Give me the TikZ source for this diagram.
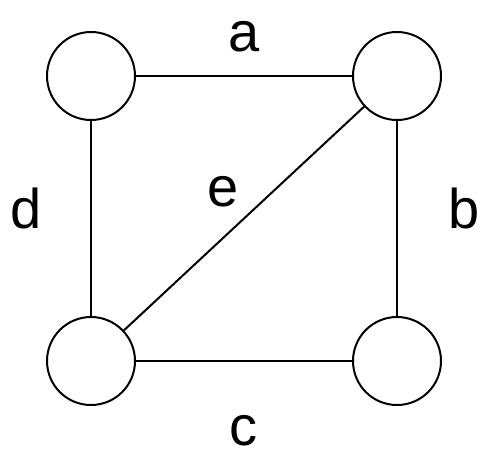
\documentclass[tikz,border=0pt]{standalone}
\usepackage{fontspec}
\setmainfont{Liberation Sans}
\begin{document}
\begin{tikzpicture}[x=1pt,y=-1pt,
  vertex/.style={circle,draw=black,line width=2pt,minimum size=88pt,inner sep=0pt},
  edge/.style={draw=black,line width=2pt},
  lbl/.style={anchor=base,inner sep=0pt,font=\fontsize{56}{60}\selectfont}]
\useasboundingbox (0,0) rectangle (497,472);
\node[vertex] (tl) at (91,76) {};
\node[vertex] (tr) at (397,76) {};
\node[vertex] (bl) at (91,361) {};
\node[vertex] (br) at (397,361) {};
\draw[edge] (tl) -- (tr);
\draw[edge] (tr) -- (br);
\draw[edge] (bl) -- (br);
\draw[edge] (tl) -- (bl);
\draw[edge] (bl) -- (tr);
\node[lbl] (la) at (244,51) {a};
\node[lbl] (lb) at (464,228) {b};
\node[lbl] (lc) at (243,445) {c};
\node[lbl] (ld) at (26,228) {d};
\node[lbl] (le) at (223,206) {e};
\end{tikzpicture}
\end{document}
